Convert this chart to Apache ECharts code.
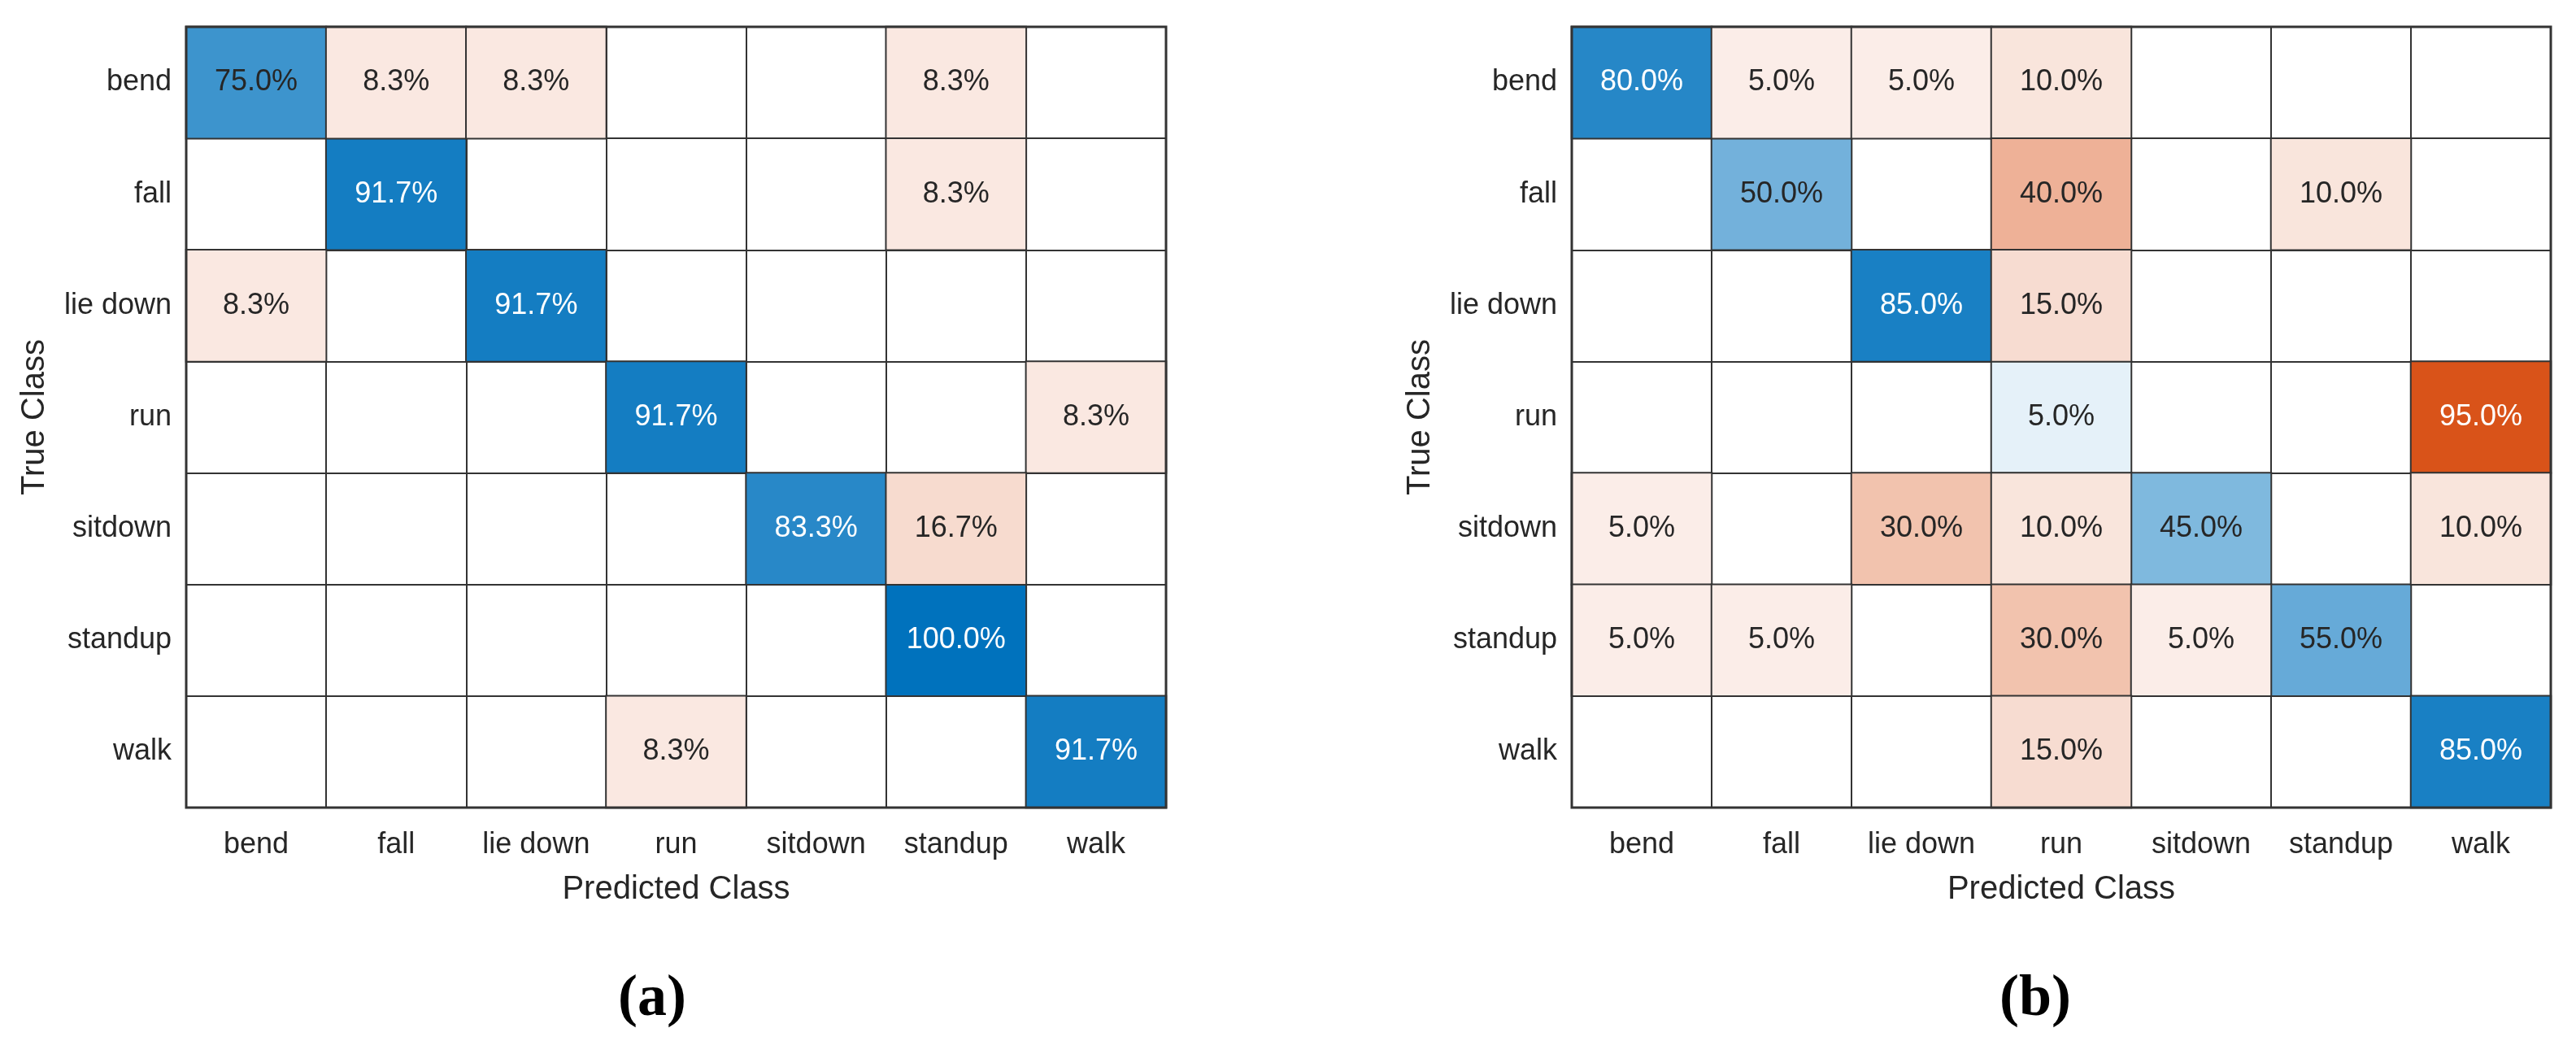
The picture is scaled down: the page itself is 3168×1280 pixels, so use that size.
<!DOCTYPE html>
<html>
<head>
<meta charset="utf-8">
<style>
  html, body { margin: 0; padding: 0; background: #ffffff; }
  #chart { width: 3168px; height: 1280px; }
</style>
<script src="https://cdn.jsdelivr.net/npm/echarts@6/dist/echarts.min.js"></script>
</head>
<body>
<div id="chart"></div>
<script>
// ---- data ----
const categories = ['bend', 'fall', 'lie down', 'run', 'sitdown', 'standup', 'walk'];
// rows = true class, columns = predicted class (percent)
const matrixA = [
  [75.0, 8.3, 8.3, 0, 0, 8.3, 0],
  [0, 91.7, 0, 0, 0, 8.3, 0],
  [8.3, 0, 91.7, 0, 0, 0, 0],
  [0, 0, 0, 91.7, 0, 0, 8.3],
  [0, 0, 0, 0, 83.3, 16.7, 0],
  [0, 0, 0, 0, 0, 100.0, 0],
  [0, 0, 0, 8.3, 0, 0, 91.7]
];
const matrixB = [
  [80.0, 5.0, 5.0, 10.0, 0, 0, 0],
  [0, 50.0, 0, 40.0, 0, 10.0, 0],
  [0, 0, 85.0, 15.0, 0, 0, 0],
  [0, 0, 0, 5.0, 0, 0, 95.0],
  [5.0, 0, 30.0, 10.0, 45.0, 0, 10.0],
  [5.0, 5.0, 0, 30.0, 5.0, 55.0, 0],
  [0, 0, 0, 15.0, 0, 0, 85.0]
];
const xTitle = 'Predicted Class';
const yTitle = 'True Class';
const captions = ['(a)', '(b)'];

// ---- build ----
const FONT = '"Liberation Sans", Arial, Helvetica, sans-serif';
const TXT = '#262626';
const LINE = '#333333';

function split(matrix) {
  let max = 0;
  matrix.forEach(r => r.forEach(v => { if (v > max) max = v; }));
  const diag = [], off = [];
  matrix.forEach((row, i) => row.forEach((v, j) => {
    if (!v) return;
    const item = { value: [j, i, v], label: { color: v / max > 0.8 ? '#ffffff' : TXT } };
    (i === j ? diag : off).push(item);
  }));
  return { max, diag, off };
}
const A = split(matrixA), B = split(matrixB);

const grids = [
  { left: 229, top: 33, width: 1205, height: 960 },
  { left: 1933, top: 33, width: 1204, height: 960 }
];

function xAx(idx) {
  return {
    type: 'category', gridIndex: idx, data: categories, position: 'bottom',
    axisLine: { show: false }, axisTick: { show: false },
    splitLine: { show: true, interval: 0, lineStyle: { color: LINE, width: 2 } },
    axisLabel: { interval: 0, margin: 28, fontSize: 36, color: TXT, fontFamily: FONT },
    name: xTitle, nameLocation: 'middle', nameGap: 81,
    nameTextStyle: { fontSize: 40, color: TXT, fontFamily: FONT }
  };
}
function yAx(idx) {
  return {
    type: 'category', gridIndex: idx, data: categories, inverse: true,
    axisLine: { show: false }, axisTick: { show: false },
    splitLine: { show: true, interval: 0, lineStyle: { color: LINE, width: 2 } },
    axisLabel: { interval: 0, margin: 18, fontSize: 36, color: TXT, fontFamily: FONT },
    name: yTitle, nameLocation: 'middle', nameGap: 166,
    nameTextStyle: { fontSize: 40, color: TXT, fontFamily: FONT }
  };
}
function hm(idx, data) {
  return {
    type: 'heatmap', xAxisIndex: idx, yAxisIndex: idx, data: data,
    itemStyle: { borderColor: LINE, borderWidth: 2 },
    label: { show: true, fontSize: 36, fontFamily: FONT,
      formatter: p => p.value[2].toFixed(1) + '%' },
    emphasis: { disabled: true }
  };
}

const option = {
  animation: false,
  backgroundColor: '#ffffff',
  title: [
    { text: captions[0], left: 797, top: 1188, textAlign: 'center',
      textStyle: { fontFamily: '"Liberation Serif", "Times New Roman", serif', fontWeight: 'bold', fontSize: 72, color: '#000' } },
    { text: captions[1], left: 2498, top: 1188, textAlign: 'center',
      textStyle: { fontFamily: '"Liberation Serif", "Times New Roman", serif', fontWeight: 'bold', fontSize: 72, color: '#000' } }
  ],
  grid: grids.map(g => Object.assign({ show: true, z: 10, backgroundColor: 'transparent', borderColor: LINE, borderWidth: 3 }, g)),
  xAxis: [xAx(0), xAx(1)],
  yAxis: [yAx(0), yAx(1)],
  visualMap: [
    { show: false, type: 'continuous', min: 0, max: A.max, dimension: 2, seriesIndex: 0, inRange: { color: ['#F2F8FC', '#0072BD'] } },
    { show: false, type: 'continuous', min: 0, max: A.max, dimension: 2, seriesIndex: 1, inRange: { color: ['#FDF6F3', '#D95319'] } },
    { show: false, type: 'continuous', min: 0, max: B.max, dimension: 2, seriesIndex: 2, inRange: { color: ['#F2F8FC', '#0072BD'] } },
    { show: false, type: 'continuous', min: 0, max: B.max, dimension: 2, seriesIndex: 3, inRange: { color: ['#FDF6F3', '#D95319'] } }
  ],
  series: [hm(0, A.diag), hm(0, A.off), hm(1, B.diag), hm(1, B.off)]
};

const chart = echarts.init(document.getElementById('chart'));
chart.setOption(option);
</script>
</body>
</html>
